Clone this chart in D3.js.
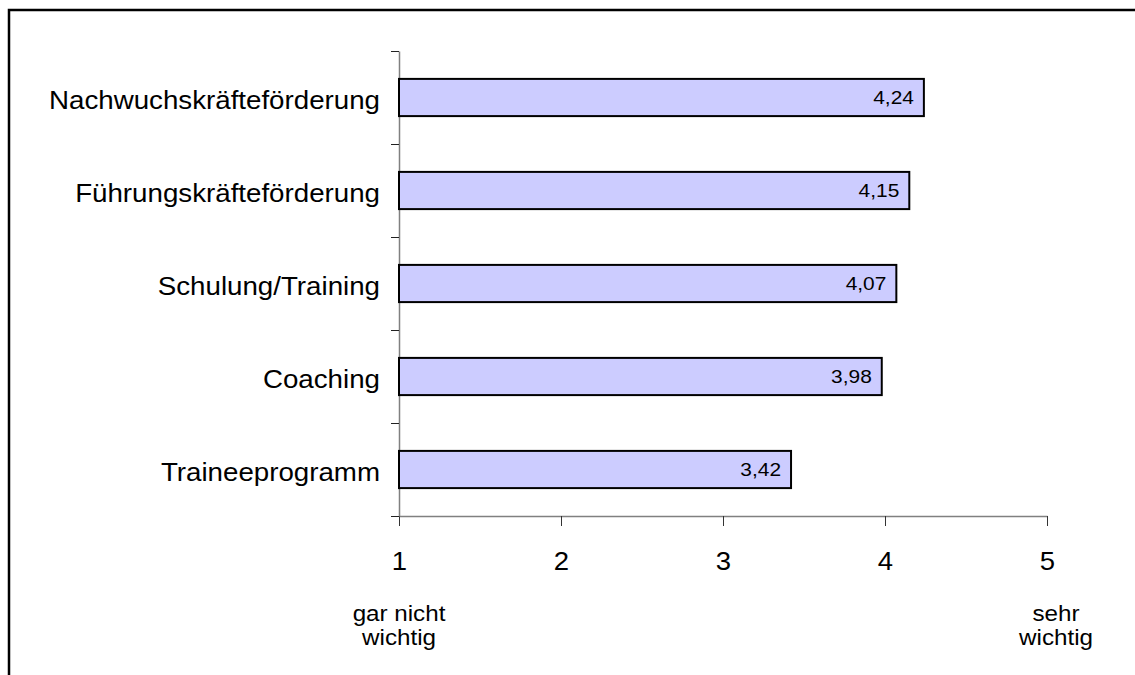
<!DOCTYPE html>
<html>
<head>
<meta charset="utf-8">
<script src="https://cdn.jsdelivr.net/npm/d3@7"></script>
<style>
  body { margin: 0; background: #fff; }
  svg { display: block; font-family: "Liberation Sans", Arial, sans-serif; }
</style>
</head>
<body>
<svg id="chart" width="1135" height="675"></svg>
<script>
var categories = ["Nachwuchskräfteförderung", "Führungskräfteförderung", "Schulung/Training", "Coaching", "Traineeprogramm"];
var values = [4.24, 4.15, 4.07, 3.98, 3.42];
var xTicks = [1, 2, 3, 4, 5];
var scaleEnds = [
  { value: 1, lines: ["gar nicht", "wichtig"] },
  { value: 5, lines: ["sehr", "wichtig"] }
];

// text in the reference is stretched a bit horizontally
var stretch = "scale(1.1,1)";

var svg = d3.select("#chart");

// frame (only top and left edges visible)
svg.append("path")
  .attr("d", "M9,675V10H1135")
  .attr("fill", "none")
  .attr("stroke", "#000")
  .attr("stroke-width", 2.5);

var plotTop = 51, plotBottom = 516;

var x = d3.scaleLinear().domain([1, 5]).range([399, 1047]);

var y = d3.scaleBand()
  .domain(categories)
  .range([plotTop, plotBottom])
  .paddingInner(0.6)
  .paddingOuter(0.3);

// band edges for the category ticks
var yEdge = d3.scaleLinear().domain([0, categories.length]).range([plotTop, plotBottom]);

// x axis
var xAxis = svg.append("g")
  .attr("transform", "translate(0," + plotBottom + ")")
  .call(d3.axisBottom(x).tickValues(xTicks).tickSize(10).tickSizeOuter(0).tickPadding(26).tickFormat(d3.format("d")));
xAxis.select(".domain").attr("stroke", "#808080").attr("stroke-width", 1.5);
xAxis.selectAll(".tick line").attr("stroke", "#333").attr("stroke-width", 1);
xAxis.selectAll(".tick text")
  .attr("font-size", 25)
  .attr("fill", "#000")
  .attr("font-family", "Liberation Sans, Arial, sans-serif")
  .attr("transform", stretch);

// y axis
var yAxis = svg.append("g")
  .attr("transform", "translate(" + x(1) + ",0)")
  .call(d3.axisLeft(yEdge).ticks(categories.length).tickSize(8).tickSizeOuter(0).tickFormat(""));
yAxis.select(".domain").attr("stroke", "#808080").attr("stroke-width", 1.5);
yAxis.selectAll(".tick line").attr("stroke", "#222").attr("stroke-width", 1);

// bars
svg.selectAll(".bar")
  .data(categories)
  .enter()
  .append("rect")
  .attr("class", "bar")
  .attr("x", x(1))
  .attr("y", function (d) { return y(d); })
  .attr("width", function (d, i) { return x(values[i]) - x(1); })
  .attr("height", y.bandwidth())
  .attr("fill", "#ccccff")
  .attr("stroke", "#000")
  .attr("stroke-width", 2);

// value labels inside bars
svg.selectAll(".val")
  .data(categories)
  .enter()
  .append("text")
  .attr("class", "val")
  .attr("transform", function (d, i) {
    return "translate(" + (x(values[i]) - 10) + "," + (y(d) + y.bandwidth() / 2 + 6) + ") " + stretch;
  })
  .attr("text-anchor", "end")
  .attr("font-size", 19)
  .text(function (d, i) { return values[i].toFixed(2).replace(".", ","); });

// category labels
svg.selectAll(".cat")
  .data(categories)
  .enter()
  .append("text")
  .attr("class", "cat")
  .attr("transform", function (d) {
    return "translate(380," + (y(d) + y.bandwidth() / 2 + 11) + ") " + stretch;
  })
  .attr("text-anchor", "end")
  .attr("font-size", 25.2)
  .text(function (d) { return d; });

// end-of-scale descriptions
var ends = svg.selectAll(".end")
  .data(scaleEnds)
  .enter()
  .append("text")
  .attr("class", "end")
  .attr("text-anchor", "middle")
  .attr("font-size", 22)
  .attr("transform", function (d) {
    return "translate(" + (x(d.value) + (d.value === 5 ? 9 : 0)) + ",621) " + stretch;
  });
ends.selectAll("tspan")
  .data(function (d) { return d.lines; })
  .enter()
  .append("tspan")
  .attr("x", 0)
  .attr("dy", function (d, i) { return i === 0 ? 0 : 24; })
  .text(function (d) { return d; });
</script>
</body>
</html>
